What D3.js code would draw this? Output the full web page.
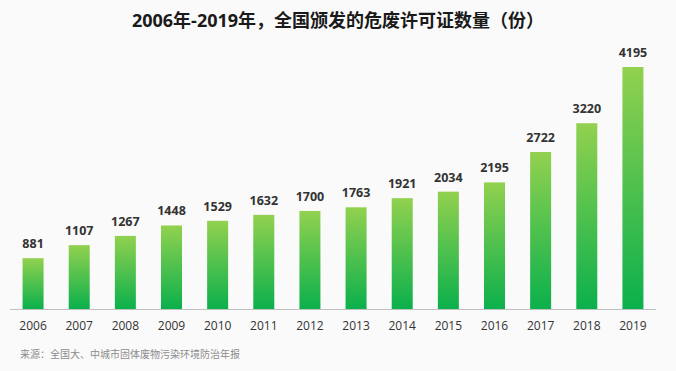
<!DOCTYPE html>
<html>
<head>
<meta charset="utf-8">
<script src="https://cdn.jsdelivr.net/npm/d3@7"></script>
<style>
  html, body { margin: 0; padding: 0; background: #fafafa; }
  svg { display: block; font-family: "Open Sans", "Noto Sans CJK SC", sans-serif; }
</style>
</head>
<body>
<div id="chart"></div>
<script>
var width = 676,
    height = 371;

var years = ["2006", "2007", "2008", "2009", "2010", "2011", "2012",
             "2013", "2014", "2015", "2016", "2017", "2018", "2019"];
var permits = [881, 1107, 1267, 1448, 1529, 1632, 1700,
               1763, 1921, 2034, 2195, 2722, 3220, 4195];

var titleText = "2006年-2019年，全国颁发的危废许可证数量（份）";
var sourceText = "来源：全国大、中城市固体废物污染环境防治年报";

var rows = years.map(function(y, i) { return { year: y, value: permits[i] }; });

var svg = d3.select("#chart").append("svg")
    .attr("width", width)
    .attr("height", height);

var defs = svg.append("defs");
var grad = defs.append("linearGradient")
    .attr("id", "barGrad")
    .attr("x1", 0).attr("y1", 0)
    .attr("x2", 0).attr("y2", 1);
grad.append("stop").attr("offset", "0%").attr("stop-color", "#92d14f");
grad.append("stop").attr("offset", "100%").attr("stop-color", "#0bb04c");

var x = d3.scaleBand()
    .domain(years)
    .range([10, 656])
    .paddingInner(0.545)
    .paddingOuter(0.2725);

var y = d3.scaleLinear()
    .domain([0, 4195])
    .range([309, 67]);

// title
svg.append("text")
    .attr("x", 338)
    .attr("y", 27)
    .attr("text-anchor", "middle")
    .attr("font-size", "18px")
    .attr("font-weight", "bold")
    .attr("fill", "#1a1a1a")
    .text(titleText);

// bars
svg.selectAll("rect.bar")
    .data(rows)
    .enter()
    .append("rect")
        .attr("class", "bar")
        .attr("x", function(d) { return x(d.year); })
        .attr("y", function(d) { return y(d.value); })
        .attr("width", x.bandwidth())
        .attr("height", function(d) { return y(0) - y(d.value); })
        .style("fill", "url(#barGrad)");

// value labels
svg.selectAll("text.val")
    .data(rows)
    .enter()
    .append("text")
        .attr("class", "val")
        .attr("x", function(d) { return x(d.year) + x.bandwidth() / 2; })
        .attr("y", function(d) { return y(d.value) - 10; })
        .attr("text-anchor", "middle")
        .attr("font-size", "12.5px")
        .attr("font-weight", "bold")
        .attr("fill", "#333333")
        .text(function(d) { return d.value; });

// x axis
var xAxis = svg.append("g")
    .attr("transform", "translate(0," + y(0) + ")")
    .call(d3.axisBottom(x).tickSize(0).tickPadding(12));
xAxis.select(".domain")
    .attr("stroke", "#bfbfbf")
    .attr("d", "M10,0.5H656");
xAxis.selectAll("text")
    .attr("font-size", "12px")
    .attr("fill", "#333333")
    .attr("font-family", "Open Sans, sans-serif");

// source
svg.append("text")
    .attr("x", 20)
    .attr("y", 358)
    .attr("font-size", "10px")
    .attr("fill", "#8c8c8c")
    .attr("font-family", "Noto Sans CJK SC, sans-serif")
    .text(sourceText);
</script>
</body>
</html>
